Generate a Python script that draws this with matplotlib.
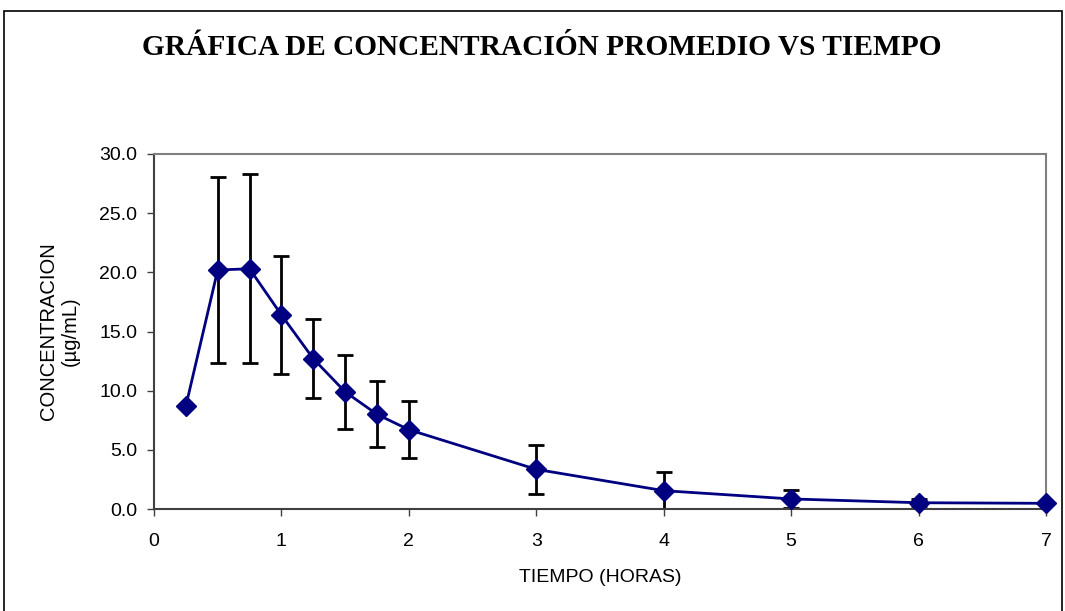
import numpy as np
import matplotlib.pyplot as plt
from matplotlib.patches import Rectangle
from matplotlib.ticker import FormatStrFormatter

# tiempo (h), concentracion promedio y desviacion estandar
tiempo = [0.25, 0.5, 0.75, 1.0, 1.25, 1.5, 1.75, 2.0, 3.0, 4.0, 5.0, 6.0, 7.0]
conc = [8.7, 20.2, 20.3, 16.4, 12.7, 9.9, 8.0, 6.7, 3.35, 1.55, 0.85, 0.53, 0.48]
desv = [0.0, 7.85, 8.0, 5.0, 3.35, 3.1, 2.8, 2.4, 2.05, 1.6, 0.75, 0.3, 0.0]

plt.rcParams['font.family'] = ['Liberation Sans', 'DejaVu Sans']

fig = plt.figure(figsize=(10.65, 6.11), dpi=100)
ax = fig.add_axes([154/1065, 1 - 509/611, 892/1065, 355/611])

# marco exterior del grafico
fig.patches.append(Rectangle((4/1065, -0.05), 1058/1065, 1 - 11/611 + 0.05,
                             transform=fig.transFigure, fill=False,
                             edgecolor='black', linewidth=1.2))

ax.errorbar(tiempo, conc, yerr=desv, fmt='none', ecolor='black',
            elinewidth=2, capsize=5.5, capthick=2, zorder=2)
ax.plot(tiempo, conc, color='#000080', linewidth=2, marker='D',
        markersize=10, zorder=3, clip_on=False)

ax.set_xlim(0, 7)
ax.set_ylim(0, 30)
ax.set_xticks(range(8))
ax.set_yticks(np.arange(0, 30.1, 5))
ax.yaxis.set_major_formatter(FormatStrFormatter('%.1f'))
ax.tick_params(direction='out', length=5, width=1, labelsize=14,
               colors='#404040', labelcolor='black')
ax.tick_params(axis='y', pad=7)
ax.tick_params(axis='x', pad=12)

for s in ['top', 'right']:
    ax.spines[s].set_color('#808080')
    ax.spines[s].set_linewidth(1.5)
for s in ['left', 'bottom']:
    ax.spines[s].set_color('#404040')
    ax.spines[s].set_linewidth(1.5)

ax.set_xlabel('TIEMPO (HORAS)', fontsize=14, labelpad=14)
ax.set_ylabel('CONCENTRACION\n(µg/mL)', fontsize=14.5, labelpad=14)

fig.text(0.509, 0.922, 'GRÁFICA DE CONCENTRACIÓN PROMEDIO VS TIEMPO',
         ha='center', va='center', fontsize=21.2, fontweight='bold',
         family=['Liberation Serif', 'DejaVu Serif'])

fig.savefig('out.png', dpi=100)
